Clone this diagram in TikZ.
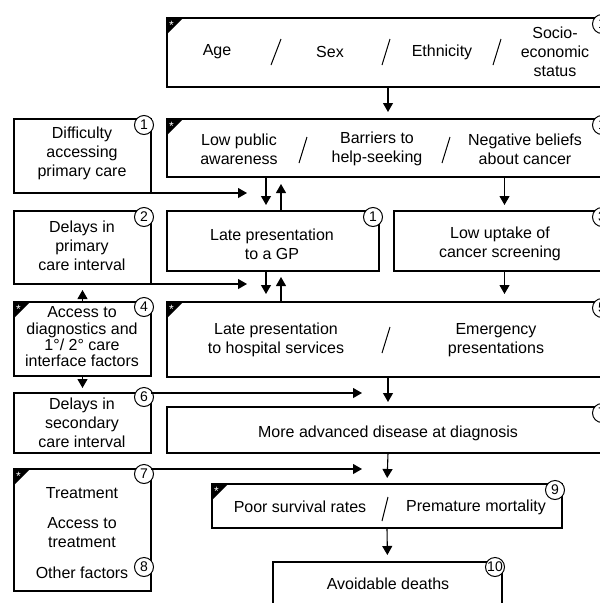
\documentclass[tikz,border=0pt]{standalone}
\usepackage{fontspec}
\setmainfont{Liberation Sans}
\usetikzlibrary{arrows.meta}
\tikzset{
  starcorner/.pic={
    \fill[black] (0,0) -- (16,0) -- (0,16) -- cycle;
    \node[white,inner sep=0pt,font=\fontsize{12}{12}\selectfont] at (4.5,7.5) {*};
  }
}
\begin{document}
\begin{tikzpicture}[x=1pt,y=-1pt,
  box/.style={draw,line width=1.1pt,inner sep=0pt,outer sep=0pt,anchor=north west},
  lbl/.style={align=center,inner sep=0pt,font=\fontsize{16}{19}\selectfont},
  num/.style={circle,draw,fill=white,line width=1pt,minimum size=19pt,inner sep=0pt,
              font=\fontsize{14}{14}\selectfont},
  arr/.style={-{Triangle[width=10pt,length=9pt]},line width=1.1pt},
  sep/.style={line width=1pt}]

\useasboundingbox (0,0) rectangle (600,603);
\clip (0,0) rectangle (600,603);

% boxes
\node[box,minimum width=442pt,minimum height=69pt] (demog) at (167,18) {};
\node[box,minimum width=442pt,minimum height=58pt] (beliefs) at (167,119) {};
\node[box,minimum width=137pt,minimum height=74pt] (access1) at (14,119) {};
\node[box,minimum width=137pt,minimum height=73pt] (delay1) at (14,211) {};
\node[box,minimum width=212pt,minimum height=60pt] (gp) at (167,211) {};
\node[box,minimum width=215pt,minimum height=60pt] (screening) at (394,211) {};
\node[box,minimum width=137pt,minimum height=74pt] (diag) at (14,302) {};
\node[box,minimum width=442pt,minimum height=75pt] (hosp) at (167,302) {};
\node[box,minimum width=137pt,minimum height=60pt] (delay2) at (14,393) {};
\node[box,minimum width=442pt,minimum height=46pt] (adv) at (167,407) {};
\node[box,minimum width=137pt,minimum height=122pt] (treat) at (14,469) {};
\node[box,minimum width=350pt,minimum height=44pt] (surv) at (212,484) {};
\node[box,minimum width=229pt,minimum height=60pt] (deaths) at (273,562) {};

\pic at (demog.north west) {starcorner};
\pic at (beliefs.north west) {starcorner};
\pic at (diag.north west) {starcorner};
\pic at (hosp.north west) {starcorner};
\pic at (treat.north west) {starcorner};
\pic at (surv.north west) {starcorner};

% texts
\node[lbl] (age) at (217,52) {Age};
\node[lbl] (sex) at (330,52) {Sex};
\node[lbl] (ethnic) at (442,52) {Ethnicity};
\node[lbl] (ses) at (555,52) {Socio-\\economic\\status};
\draw[sep] (276,52) ++(5,-13) -- ++(-10,26);
\draw[sep] (386,52) ++(4,-13) -- ++(-8,26);
\draw[sep] (497,52) ++(4,-13) -- ++(-8,26);

\node[lbl] (aware) at (239,149) {Low public\\awareness};
\node[lbl] (barriers) at (377,149) {Barriers to\\help-seeking};
\node[lbl] (negative) at (525,149) {Negative beliefs\\about cancer};
\draw[sep] (303,150) ++(4,-13) -- ++(-8,26);
\draw[sep] (446,150) ++(4,-13) -- ++(-8,26);

\node[lbl] (difficulty) at (82,153) {Difficulty\\accessing\\primary care};
\node[lbl] (lategp) at (272,244) {Late presentation\\to a GP};
\node[lbl] (uptake) at (500,244) {Low uptake of\\cancer screening};
\node[lbl] (delayprim) at (82,246) {Delays in\\primary\\care interval};
\node[lbl,font=\fontsize{16}{16.3}\selectfont] (diagtext) at (82,337)
  {Access to\\diagnostics and\\1°/ 2° care\\interface factors};

\node[lbl] (latehosp) at (276,340) {Late presentation\\to hospital services};
\node[lbl] (emerg) at (496,340) {Emergency\\presentations};
\draw[sep] (386,340) ++(4,-13) -- ++(-8,26);

\node[lbl] (delaysec) at (82,423) {Delays in\\secondary\\care interval};
\node[lbl] (advtext) at (388,433) {More advanced disease at diagnosis};

\node[lbl] (treatment) at (82,493) {Treatment};
\node[lbl] (acctreat) at (82,533) {Access to\\treatment};
\node[lbl] (other) at (82,573) {Other factors};

\node[lbl] (poor) at (300,507) {Poor survival rates};
\node[lbl] (premature) at (476,507) {Premature mortality};
\draw[sep] (385,509) ++(3,-12) -- ++(-6,24);

\node[lbl] (avoid) at (388,584) {Avoidable deaths};

% numbers
\node[num] (n1a) at ([shift={(-7,6)}]demog.north east) {1};
\node[num] (n1b) at ([shift={(-7,6)}]beliefs.north east) {1};
\node[num] (n1c) at ([shift={(-7,6)}]access1.north east) {1};
\node[num] (n2) at ([shift={(-7,6)}]delay1.north east) {2};
\node[num] (n1d) at ([shift={(-6,6)}]gp.north east) {1};
\node[num] (n3) at ([shift={(-7,6)}]screening.north east) {3};
\node[num] (n4) at ([shift={(-7,5)}]diag.north east) {4};
\node[num] (n5) at ([shift={(-7,6)}]hosp.north east) {5};
\node[num] (n6) at ([shift={(-7,4)}]delay2.north east) {6};
\node[num] (n7a) at ([shift={(-7,6)}]adv.north east) {7};
\node[num] (n7b) at ([shift={(-7,5)}]treat.north east) {7};
\node[num] (n8) at ([shift={(-7,-24)}]treat.south east) {8};
\node[num] (n9) at ([shift={(-7,6)}]surv.north east) {9};
\node[num] (n10) at ([shift={(-7,5)}]deaths.north east) {10};

% connectors
\coordinate (in1) at (247,193);
\coordinate (in2) at (247,284);
\coordinate (in3) at (362,393);
\coordinate (in4) at (362,469);

\draw[arr,shorten >=7pt] (demog.south) -- (beliefs.north);
\draw[arr,shorten >=6pt] ([xshift=-7pt]gp.north |- beliefs.south) -- ([xshift=-7pt]gp.north);
\draw[arr,shorten >=7pt] ([xshift=8pt]gp.north) -- ([xshift=8pt]gp.north |- beliefs.south);
\draw[arr,shorten >=6pt] ([xshift=3pt]screening.north |- beliefs.south) -- ([xshift=3pt]screening.north);
\draw[arr] (access1.south east) -- (in1);
\draw[arr] (delay1.south east) -- (in2);

\draw[arr,shorten >=8pt] ([xshift=-7pt]gp.south) -- ([xshift=-7pt]gp.south |- hosp.north);
\draw[arr,shorten >=6pt] ([xshift=8pt]gp.south |- hosp.north) -- ([xshift=8pt]gp.south);
\draw[arr,shorten >=8pt] ([xshift=3pt]screening.south) -- ([xshift=3pt]screening.south |- hosp.north);
\draw[arr,shorten >=6pt] (diag.north) -- (delay1.south);
\draw[arr,shorten >=5pt] (diag.south) -- (delay2.north);

\draw[arr,shorten >=5pt] (hosp.south) -- (adv.north);
\draw[arr] (delay2.north east) -- (in3);
\draw[arr,shorten >=6pt] (adv.south) -- (surv.north);
\draw[arr] (treat.north east) -- (in4);
\draw[arr,shorten >=7pt] (surv.south) -- (deaths.north);

\end{tikzpicture}
\end{document}
